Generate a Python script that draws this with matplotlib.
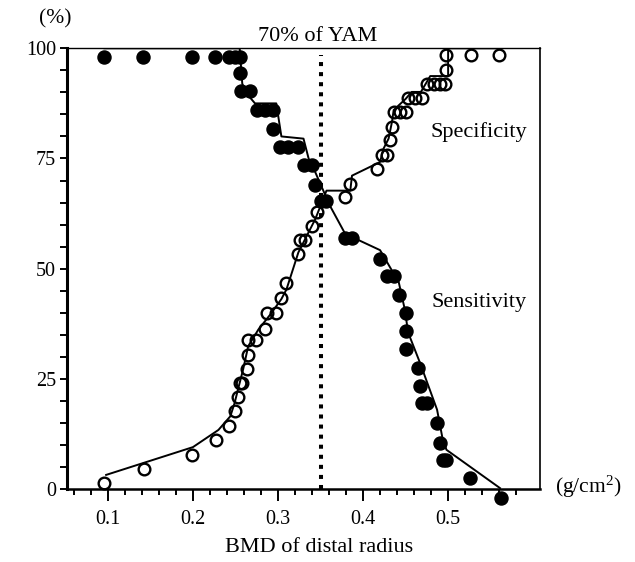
import numpy as np
import matplotlib
matplotlib.use("Agg")
import matplotlib.pyplot as plt
from matplotlib.ticker import FixedLocator, NullFormatter

plt.rcParams.update({
    "font.family": ["Liberation Serif", "DejaVu Serif"],
    "mathtext.fontset": "custom",
    "mathtext.rm": "Liberation Serif",
    "mathtext.it": "Liberation Serif:italic",
})

# ---------------------------------------------------------------------------
# Data
# ---------------------------------------------------------------------------
# Sensitivity (filled dots)
sens_x = [0.096, 0.141, 0.199, 0.226, 0.242, 0.249, 0.255, 0.255, 0.257, 0.267,
          0.275, 0.285, 0.294, 0.294, 0.302, 0.312, 0.324, 0.330, 0.340, 0.344,
          0.351, 0.357, 0.379, 0.387, 0.420, 0.428, 0.436, 0.442, 0.451, 0.451,
          0.451, 0.465, 0.467, 0.469, 0.475, 0.487, 0.491, 0.494, 0.498, 0.526,
          0.562]
sens_y = [98.0, 98.0, 98.0, 98.0, 98.0, 98.0, 98.0, 94.3, 90.4, 90.4,
          85.9, 85.9, 85.9, 81.8, 77.6, 77.6, 77.6, 73.6, 73.6, 68.9,
          65.4, 65.4, 56.9, 56.9, 52.3, 48.4, 48.4, 44.0, 40.0, 35.8,
          31.7, 27.5, 23.3, 19.5, 19.5, 15.0, 10.5, 6.6, 6.6, 2.4,
          -2.1]
# Sensitivity curve
sens_line_x = [0.096, 0.255, 0.258, 0.262, 0.273, 0.298, 0.304, 0.330, 0.336,
               0.342, 0.349, 0.361, 0.379, 0.420, 0.442, 0.449, 0.453, 0.467,
               0.487, 0.493, 0.498, 0.561]
sens_line_y = [100, 100, 92.0, 90.0, 87.5, 87.5, 80.0, 79.5, 75.0,
               72.7, 69.6, 64.3, 57.9, 54.2, 46.9, 40.8, 35.5, 28.6,
               18.0, 11.9, 8.9, 0.2]

# Specificity (open circles)
spec_x = [0.096, 0.142, 0.199, 0.227, 0.243, 0.250, 0.253, 0.255, 0.258, 0.264,
          0.265, 0.265, 0.274, 0.285, 0.287, 0.298, 0.304, 0.310, 0.324, 0.326,
          0.332, 0.340, 0.346, 0.379, 0.385, 0.416, 0.422, 0.428, 0.432, 0.434,
          0.436, 0.444, 0.451, 0.453, 0.461, 0.469, 0.475, 0.483, 0.491, 0.496,
          0.498, 0.498, 0.527, 0.560]
spec_y = [1.3, 4.5, 7.7, 11.2, 14.2, 17.6, 20.8, 24.1, 24.1, 27.3,
          30.5, 33.8, 33.8, 36.2, 40.0, 40.0, 43.4, 46.7, 53.3, 56.6,
          56.6, 59.6, 62.8, 66.2, 69.2, 72.7, 75.9, 75.9, 79.1, 82.2,
          85.6, 85.6, 85.6, 88.8, 88.8, 88.8, 92.0, 92.0, 92.0, 92.0,
          95.1, 98.5, 98.5, 98.5]
# Specificity curve
spec_line_x = [0.098, 0.200, 0.230, 0.244, 0.249, 0.253, 0.259, 0.265, 0.277,
               0.291, 0.304, 0.310, 0.324, 0.344, 0.357, 0.385, 0.387, 0.420,
               0.424, 0.430, 0.434, 0.436, 0.450, 0.457, 0.468, 0.479, 0.500,
               0.500, 0.563]
spec_line_y = [3.2, 9.5, 13.4, 16.5, 19.5, 22.6, 27.1, 32.4, 36.2,
               39.6, 43.1, 45.3, 53.7, 61.3, 67.7, 67.7, 71.1, 74.2,
               77.2, 79.5, 83.3, 86.0, 88.5, 90.1, 90.1, 93.7, 93.7,
               100, 100]

yam_x = 0.35
yam_top = 98.5

x_major = [0.1, 0.2, 0.3, 0.4, 0.5]
x_labels = ["0.1", "0.2", "0.3", "0.4", "0.5"]
y_major = [0, 25, 50, 75, 100]

# ---------------------------------------------------------------------------
fig = plt.figure(figsize=(6.35, 5.62), dpi=100)
ax = fig.add_axes([67 / 635, 1 - 489 / 562, (540 - 67) / 635, (489 - 48.3) / 562])

ax.plot(sens_line_x, sens_line_y, color="black", lw=1.4, zorder=3)
ax.plot(spec_line_x, spec_line_y, color="black", lw=1.4, zorder=3)
ax.plot(sens_x, sens_y, "o", color="black", ms=9.4, mew=1.0, mec="black",
        zorder=4, clip_on=False)
ax.plot(spec_x, spec_y, "o", mfc="none", mec="black", ms=8.4, mew=1.7,
        zorder=2, clip_on=False)
ax.plot([yam_x, yam_x], [0, yam_top], color="black", lw=2.9,
        dashes=(1, 1.5), solid_capstyle="butt", dash_capstyle="butt", zorder=5)

ax.set_xlim(0.052, 0.608)
ax.set_ylim(0, 100)

ax.xaxis.set_major_locator(FixedLocator(x_major))
ax.set_xticklabels(x_labels)
ax.xaxis.set_minor_locator(FixedLocator(np.arange(0.06, 0.59, 0.02)))
ax.yaxis.set_major_locator(FixedLocator(y_major))
ax.yaxis.set_minor_locator(FixedLocator(np.arange(5, 100, 5)))
ax.yaxis.set_minor_formatter(NullFormatter())

ax.tick_params(axis="x", which="major", direction="out", length=8.6, width=1.4,
               labelsize=14.5, pad=6.5)
ax.tick_params(axis="x", which="minor", direction="out", length=4.3, width=1.4)
ax.tick_params(axis="y", which="both", direction="out", length=5, width=1.4,
               labelsize=14.5, pad=3)

ax.spines["left"].set_linewidth(2.2)
ax.spines["bottom"].set_linewidth(1.8)
ax.spines["top"].set_linewidth(1.0)
ax.spines["right"].set_linewidth(1.2)

ax.text(0.536, 81, "Specificity", ha="center", va="center", fontsize=16)
ax.text(0.536, 42.4, "Sensitivity", ha="center", va="center", fontsize=16)
ax.text(0.347, 101.7, "70% of YAM", ha="center", va="baseline", fontsize=16,
        clip_on=False)

fig.text(55 / 635, 1 - 19 / 562, "(%)", ha="center", va="center", fontsize=15.5)
fig.text(555 / 635, 1 - 487 / 562, r"(g/cm$^\mathrm{2}$)", ha="left", va="center",
         fontsize=15.5)
fig.text(319 / 635, 1 - 548 / 562, "BMD of distal radius", ha="center",
         va="center", fontsize=16)

fig.savefig("out.png", dpi=100)
